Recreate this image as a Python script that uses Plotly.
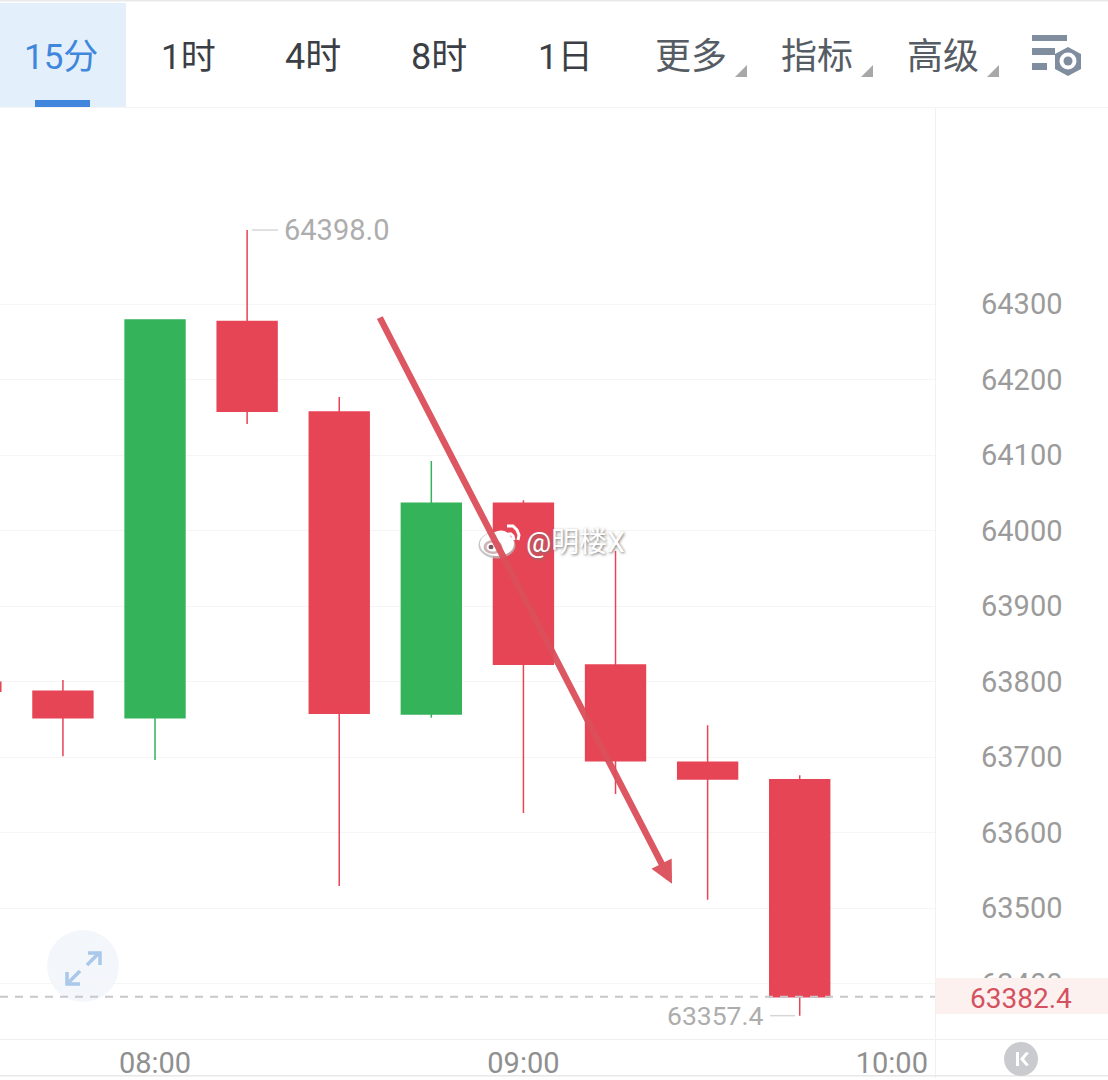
import plotly.graph_objects as go

WIDTH = 1108
HEIGHT = 1080
FONT = "Roboto, 'Noto Sans CJK SC', sans-serif"

# Candles, 15 minute bars
times = [
    "2024-01-01 07:30", "2024-01-01 07:45", "2024-01-01 08:00", "2024-01-01 08:15", "2024-01-01 08:30",
    "2024-01-01 08:45", "2024-01-01 09:00", "2024-01-01 09:15", "2024-01-01 09:30", "2024-01-01 09:45",
]
opens = [63799, 63787, 63752, 64277, 64157, 63757, 64036, 63822, 63693, 63670]
highs = [63799, 63802, 64279, 64398.0, 64177, 64092, 64040, 63973, 63742, 63676]
lows = [63787, 63701, 63696, 64141, 63529, 63752, 63626, 63651, 63511, 63357.4]
closes = [63787, 63752, 64279, 64158, 63758, 64036, 63823, 63695, 63671, 63382.4]

y_ticks = [63400, 63500, 63600, 63700, 63800, 63900, 64000, 64100, 64200, 64300]
x_ticks = ["2024-01-01 08:00", "2024-01-01 09:00", "2024-01-01 10:00"]
x_range = ["2024-01-01 07:34:45", "2024-01-01 10:07:02"]
y_range = [63326.5, 64561]

last_price = 63382.4
high_label = "64398.0"
low_label = "63357.4"
arrow_start = ("2024-01-01 08:36:29", 64284)
arrow_end = ("2024-01-01 09:24:12", 63532)

tabs = ["15分", "1时", "4时", "8时", "1日", "更多", "指标", "高级"]
tab_centres = [61, 188, 313, 439, 565, 691, 817, 943]
tab_colors = ["#3f86dc", "#3b3f45", "#3b3f45", "#3b3f45", "#3b3f45", "#565c64", "#565c64", "#565c64"]
tab_sizes = [35, 35, 36, 36, 35, 36, 36, 36]
menu_triangles = [747, 873, 999]


def px(x):
    return x / WIDTH


def py(y):
    return 1 - y / HEIGHT


def paper_path(points, close=True):
    d = "M" + " L".join(f"{px(x):.5f},{py(y):.5f}" for x, y in points)
    return d + (" Z" if close else "")


def rect(x0, y0, x1, y1, color, layer="above"):
    return dict(type="rect", xref="paper", yref="paper", x0=px(x0), x1=px(x1), y0=py(y0), y1=py(y1),
                fillcolor=color, line_width=0, layer=layer)


def circle(cx, cy, rx, ry, color, layer="above", opacity=1):
    return dict(type="circle", xref="paper", yref="paper", x0=px(cx - rx), x1=px(cx + rx), y0=py(cy - ry),
                y1=py(cy + ry), fillcolor=color, line_width=0, layer=layer, opacity=opacity)


def stroke(points, color, width):
    return dict(type="path", xref="paper", yref="paper", path=paper_path(points, close=False),
                line=dict(color=color, width=width), layer="above")


def filled(points, color):
    return dict(type="path", xref="paper", yref="paper", path=paper_path(points),
                fillcolor=color, line_width=0, layer="above")


def label(x, y, text, size, color, **kwargs):
    return dict(xref="paper", yref="paper", x=px(x), y=py(y), text=text, showarrow=False,
                font=dict(size=size, color=color, family=FONT), xanchor="center", yanchor="middle", **kwargs)


fig = go.Figure(
    go.Candlestick(
        x=times,
        open=opens,
        high=highs,
        low=lows,
        close=closes,
        increasing=dict(line=dict(color="#35b35a", width=1.5), fillcolor="#35b35a"),
        decreasing=dict(line=dict(color="#e64556", width=1.5), fillcolor="#e64556"),
        whiskerwidth=0,
        showlegend=False,
    )
)

shapes = [
    # top bar
    rect(0, 0, WIDTH, 1.5, "#e9e9e9"),
    rect(0, 3, 126, 107, "#e3effb"),
    rect(35, 100, 90, 107, "#3f86dc"),
    rect(0, 107, WIDTH, 108, "#f4f4f4"),
    # frame of the chart
    rect(935, 107, 936, 1078, "#f1f1f1", layer="below"),
    rect(0, 1039, WIDTH, 1040, "#f0f0f0", layer="below"),
    rect(0, 1075, WIDTH, 1076.5, "#e8e8e8", layer="below"),
    # settings icon
    rect(1032, 35, 1067, 41, "#7f8d9e"),
    rect(1032, 48, 1055, 55, "#7f8d9e"),
    rect(1032, 63, 1047, 70, "#7f8d9e"),
    filled([(1068, 47), (1081, 54), (1081, 69), (1068, 76), (1055, 69), (1055, 54)], "#7f8d9e"),
    circle(1068, 61, 8.5, 8.5, "#ffffff"),
    circle(1068, 61, 4.5, 4.5, "#7f8d9e"),
    # fullscreen button
    circle(83, 966, 36, 36, "#f3f6fb", layer="below"),
    stroke([(87, 965), (99, 953)], "#a9c8ea", 3.5),
    stroke([(88, 953), (100, 953), (100, 965)], "#a9c8ea", 3.5),
    stroke([(68, 983), (80, 971)], "#a9c8ea", 3.5),
    stroke([(67, 972), (67, 984), (80, 984)], "#a9c8ea", 3.5),
    # last price
    dict(type="line", xref="paper", yref="y", x0=0, x1=px(935), y0=last_price, y1=last_price,
         line=dict(color="#c6c8cb", width=2, dash="8px,7px"), layer="above"),
    rect(936, 978, WIDTH, 1014, "#fdf1ef"),
    # leader lines of the high and low labels
    dict(type="line", xref="paper", yref="y", x0=px(252), x1=px(278), y0=highs[3], y1=highs[3],
         line=dict(color="#d6d6d6", width=1.5), layer="above"),
    dict(type="line", xref="paper", yref="y", x0=px(770), x1=px(795), y0=lows[9], y1=lows[9],
         line=dict(color="#d6d6d6", width=1.5), layer="above"),
    # back to latest button
    circle(1021, 1059, 17, 17, "#c9cbce"),
    filled([(1016, 1052), (1019, 1052), (1019, 1066), (1016, 1066)], "#ffffff"),
    filled([(1020, 1059), (1026, 1052), (1029, 1053), (1024, 1059), (1029, 1065), (1026, 1066)], "#ffffff"),
]
for right in menu_triangles:
    shapes.append(filled([(right, 65), (right, 77), (right - 12, 77)], "#a8a8a8"))

annotations = [
    label(center, 57, text, size, color)
    for center, text, color, size in zip(tab_centres, tabs, tab_colors, tab_sizes)
]
annotations += [
    dict(x=arrow_end[0], y=arrow_end[1], ax=arrow_start[0], ay=arrow_start[1], xref="x", yref="y",
         axref="x", ayref="y", showarrow=True, arrowhead=2, arrowsize=0.7, arrowwidth=6.5, arrowcolor="#dc4f5a",
         text="", opacity=0.95),
    dict(x=times[3], y=highs[3], xref="x", yref="y", text=high_label, showarrow=False, xanchor="left",
         yanchor="middle", xshift=35, font=dict(size=29, color="#adadad", family=FONT)),
    dict(x=times[9], y=lows[9], xref="x", yref="y", text=low_label, showarrow=False, xanchor="right",
         yanchor="middle", xshift=-35, font=dict(size=26.5, color="#adadad", family=FONT)),
    label(1021, 998, f"{last_price:.1f}", 28, "#d4525f"),
    dict(xref="paper", yref="paper", x=px(575), y=py(542), text="@明楼X", showarrow=False, xanchor="center",
         yanchor="middle", font=dict(size=28, color="#ffffff", family=FONT, shadow="1px 1px 3px #777777")),
]

# weibo watermark
shapes += [
    circle(497, 545, 18.5, 13.5, "#b8b8b8", opacity=0.8),
    circle(497, 544, 17, 12, "#ffffff"),
    circle(501, 538, 9.5, 7.5, "#ffffff"),
    circle(493, 547, 9.5, 7, "#cdb4b9"),
    circle(493, 547, 6.5, 4.5, "#ffffff"),
    circle(491, 547, 2.5, 2.2, "#7a5a60"),
    stroke([(508, 534), (511, 534), (513, 536), (514, 540)], "#ffffff", 3),
    stroke([(507, 526), (513, 526), (517, 530), (519, 535), (518, 540)], "#ffffff", 3),
]

fig.update_layout(
    width=WIDTH,
    height=HEIGHT,
    margin=dict(l=0, r=0, t=0, b=0),
    paper_bgcolor="white",
    plot_bgcolor="white",
    boxmode="group",
    boxgap=0.35,
    boxgroupgap=0,
    showlegend=False,
    shapes=shapes,
    annotations=annotations,
)
fig.update_xaxes(
    type="date",
    domain=[0, px(935)],
    range=x_range,
    tickvals=x_ticks,
    tickformat="%H:%M",
    showgrid=False,
    zeroline=False,
    showline=False,
    ticks="",
    ticklabelstandoff=4,
    rangeslider_visible=False,
    tickfont=dict(size=29, color="#8f8f8f", family=FONT),
)
fig.update_yaxes(
    domain=[py(1039), py(107)],
    range=y_range,
    side="right",
    tickvals=y_ticks,
    tickformat="d",
    showgrid=True,
    gridcolor="#f5f5f5",
    gridwidth=1,
    zeroline=False,
    showline=False,
    ticks="",
    ticklabelstandoff=45,
    tickfont=dict(size=29, color="#9b9b9b", family=FONT),
)

fig.write_html("out.html", config=dict(displayModeBar=False), post_script="document.body.style.margin='0';")
